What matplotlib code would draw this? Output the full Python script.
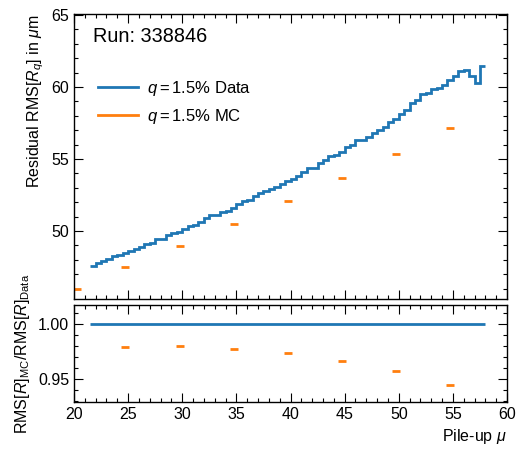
import numpy as np
import matplotlib
matplotlib.use('Agg')
from matplotlib import pyplot as plt
from matplotlib.ticker import MultipleLocator

plt.rcParams['font.family'] = ['Liberation Sans', 'DejaVu Sans']
plt.rcParams['mathtext.fontset'] = 'custom'
plt.rcParams['mathtext.rm'] = 'Liberation Sans'
plt.rcParams['mathtext.it'] = 'Liberation Sans:italic'
plt.rcParams['mathtext.bf'] = 'Liberation Sans:bold'

# data: residual RMS per pile-up bin (0.5 wide, 21.5 .. 58)
data_lo, data_hi, data_bw = 21.5, 58.0, 0.5
data_rms = [47.55, 47.76, 47.90, 48.08, 48.24, 48.31, 48.50, 48.61, 48.77, 48.89,
            49.10, 49.17, 49.42, 49.44, 49.70, 49.84, 49.95, 50.17,
            50.35, 50.42, 50.65, 50.90, 51.11, 51.13, 51.30, 51.41, 51.60, 51.85,
            52.10, 52.17, 52.43, 52.62, 52.76, 52.92, 53.03,
            53.30, 53.50, 53.63, 53.84, 54.12, 54.38, 54.38, 54.75, 54.91, 55.19,
            55.30, 55.47, 55.83, 55.97, 56.34, 56.32, 56.55, 56.83,
            57.03, 57.21, 57.55, 57.78, 58.10, 58.40, 58.91, 59.07, 59.49, 59.56,
            59.86, 59.95, 60.16, 60.46, 60.78, 61.11, 61.16, 60.76, 60.26, 61.46]

# MC points
mc_mu = [20.3, 24.75, 29.75, 34.75, 39.75, 44.75, 49.75, 54.75]
mc_rms = [46.0, 47.5, 48.94, 50.46, 52.06, 53.66, 55.33, 57.13]

# ratio MC / data
ratio_mu = [24.75, 29.75, 34.75, 39.75, 44.75, 49.75, 54.75]
ratio = [0.9796, 0.9802, 0.9779, 0.9736, 0.9670, 0.9576, 0.9451]

edges = np.arange(data_lo, data_hi + data_bw / 2, data_bw)
blue = '#1f77b4'
orange = '#ff7f0e'

fig = plt.figure(figsize=(5.16, 4.53), dpi=100)
ax = fig.add_axes([0.1434, 0.3393, 0.8392, 0.6298])
rax = fig.add_axes([0.1434, 0.1132, 0.8392, 0.2135], sharex=ax)

ax.stairs(data_rms, edges, color=blue, lw=2, baseline=None, label=r'$q = 1.5\%$ Data')
ax.plot(mc_mu, mc_rms, ls='none', marker='_', ms=6, mew=2, color=orange)
ax.plot([], [], color=orange, lw=2, label=r'$q = 1.5\%$ MC')

rax.stairs(np.ones(len(data_rms)), edges, color=blue, lw=2, baseline=None)
rax.plot(ratio_mu, ratio, ls='none', marker='_', ms=6, mew=2, color=orange)

ax.set_xlim(20, 60)
ax.set_ylim(45.26, 65.07)
rax.set_ylim(0.9296, 1.0175)

for a in (ax, rax):
    a.tick_params(which='both', direction='in', top=True, right=True, labelsize=11.5)
    a.tick_params(which='major', length=6.5, width=0.8)
    a.tick_params(which='minor', length=3.2, width=0.8)
    for s in a.spines.values():
        s.set_linewidth(1.0)
    a.xaxis.set_major_locator(MultipleLocator(5))
    a.xaxis.set_minor_locator(MultipleLocator(1))
ax.yaxis.set_major_locator(MultipleLocator(5))
ax.yaxis.set_minor_locator(MultipleLocator(1))
rax.yaxis.set_major_locator(MultipleLocator(0.05))
rax.yaxis.set_minor_locator(MultipleLocator(0.01))
ax.tick_params(labelbottom=False)

ax.set_ylabel(r'Residual RMS[$R_q$] in $\mu$m', fontsize=11.5, loc='top')
rax.set_ylabel(r'RMS$[R]_{\mathrm{MC}}$/RMS$[R]_{\mathrm{Data}}$', fontsize=11.5)
rax.set_xlabel(r'Pile-up $\mu$', fontsize=11.5, loc='right')

ax.text(0.045, 0.955, 'Run: 338846', transform=ax.transAxes, fontsize=14.3, va='top')
ax.legend(loc='upper left', bbox_to_anchor=(0.02, 0.824), frameon=False,
          fontsize=12, handlelength=2.4, handletextpad=0.55, labelspacing=0.5)

fig.savefig('out.png', dpi=100)
